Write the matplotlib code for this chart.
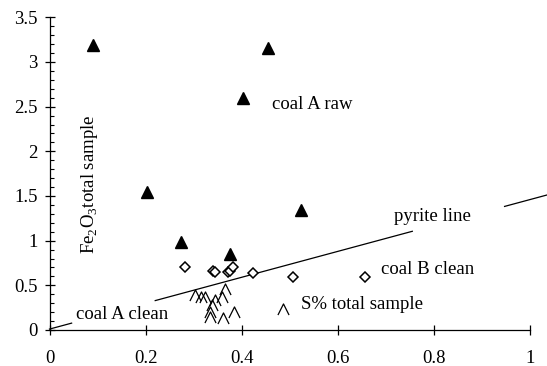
import matplotlib.pyplot as plt
import numpy as np
from matplotlib.path import Path

plt.rcParams['font.family'] = ['Liberation Serif', 'DejaVu Serif']
plt.rcParams['mathtext.fontset'] = 'custom'
plt.rcParams['mathtext.rm'] = 'Liberation Serif'

# coal A raw (filled triangles)
raw_x = [0.091, 0.454, 0.402, 0.202, 0.274, 0.375, 0.523]
raw_y = [3.19, 3.16, 2.60, 1.55, 0.98, 0.85, 1.34]

# coal B clean (open diamonds)
b_x = [0.281, 0.340, 0.345, 0.372, 0.375, 0.382, 0.423, 0.506, 0.656]
b_y = [0.70, 0.66, 0.645, 0.645, 0.66, 0.70, 0.64, 0.59, 0.59]

# coal A clean (open chevrons)
a_x = [0.303, 0.315, 0.324, 0.345, 0.359, 0.366, 0.338, 0.333, 0.334, 0.362, 0.384, 0.485]
a_y = [0.39, 0.37, 0.37, 0.335, 0.37, 0.455, 0.28, 0.205, 0.15, 0.13, 0.205, 0.235]

# pyrite line: y = slope * x + icpt, drawn in pieces around the labels
pyr_slope = 1.45
pyr_icpt = 0.01
pyr_pieces = [(0.0, 0.046), (0.22, 0.755), (0.947, 1.04)]

fig = plt.figure(figsize=(5.47, 3.66), dpi=100)
ax = fig.add_axes([0.0905, 0.0984, 0.8785, 0.8543])

chev = Path([(-1, -1), (0, 1), (1, -1)], [Path.MOVETO, Path.LINETO, Path.LINETO])

for x0, x1 in pyr_pieces:
    xs = np.array([x0, x1])
    ax.plot(xs, pyr_slope * xs + pyr_icpt, color='black', lw=0.9, clip_on=False)

ax.plot(raw_x, raw_y, ls='none', marker='^', ms=8, color='black', clip_on=False)
ax.plot(b_x, b_y, ls='none', marker='D', ms=5.2, mfc='white', mec='black', mew=1.1)
ax.plot(a_x, a_y, ls='none', marker=chev, ms=8, mfc='none', mec='black', mew=0.9)

fs = 13.5
ax.text(0.463, 2.52, 'coal A raw', fontsize=fs, va='center')
ax.text(0.716, 1.275, 'pyrite line', fontsize=fs, va='center')
ax.text(0.689, 0.68, 'coal B clean', fontsize=fs, va='center')
ax.text(0.523, 0.28, 'S% total sample', fontsize=fs, va='center')
ax.text(0.055, 0.17, 'coal A clean', fontsize=fs, va='center')
ax.text(0.084, 1.63, r'Fe$_2$O$_3$total sample', fontsize=fs, va='center', ha='center', rotation=90)

ax.set_xlim(0, 1)
ax.set_ylim(0, 3.5)
ax.set_xticks([0, 0.2, 0.4, 0.6, 0.8, 1])
ax.set_xticklabels(['0', '0.2', '0.4', '0.6', '0.8', '1'])
ax.set_yticks([0, 0.5, 1, 1.5, 2, 2.5, 3, 3.5])
ax.set_yticklabels(['0', '0.5', '1', '1.5', '2', '2.5', '3', '3.5'])
ax.set_yticks(np.arange(0, 3.51, 0.1), minor=True)

for s in ['top', 'right']:
    ax.spines[s].set_visible(False)
ax.spines['left'].set_linewidth(0.9)
ax.spines['bottom'].set_linewidth(0.9)

ax.tick_params(axis='x', direction='inout', length=7, width=0.9, labelsize=fs, pad=11)
ax.tick_params(axis='y', which='major', direction='inout', length=7, width=0.9, labelsize=fs, pad=5)
ax.tick_params(axis='y', which='minor', direction='in', length=3, width=0.8)

fig.savefig('out.png', dpi=100)
